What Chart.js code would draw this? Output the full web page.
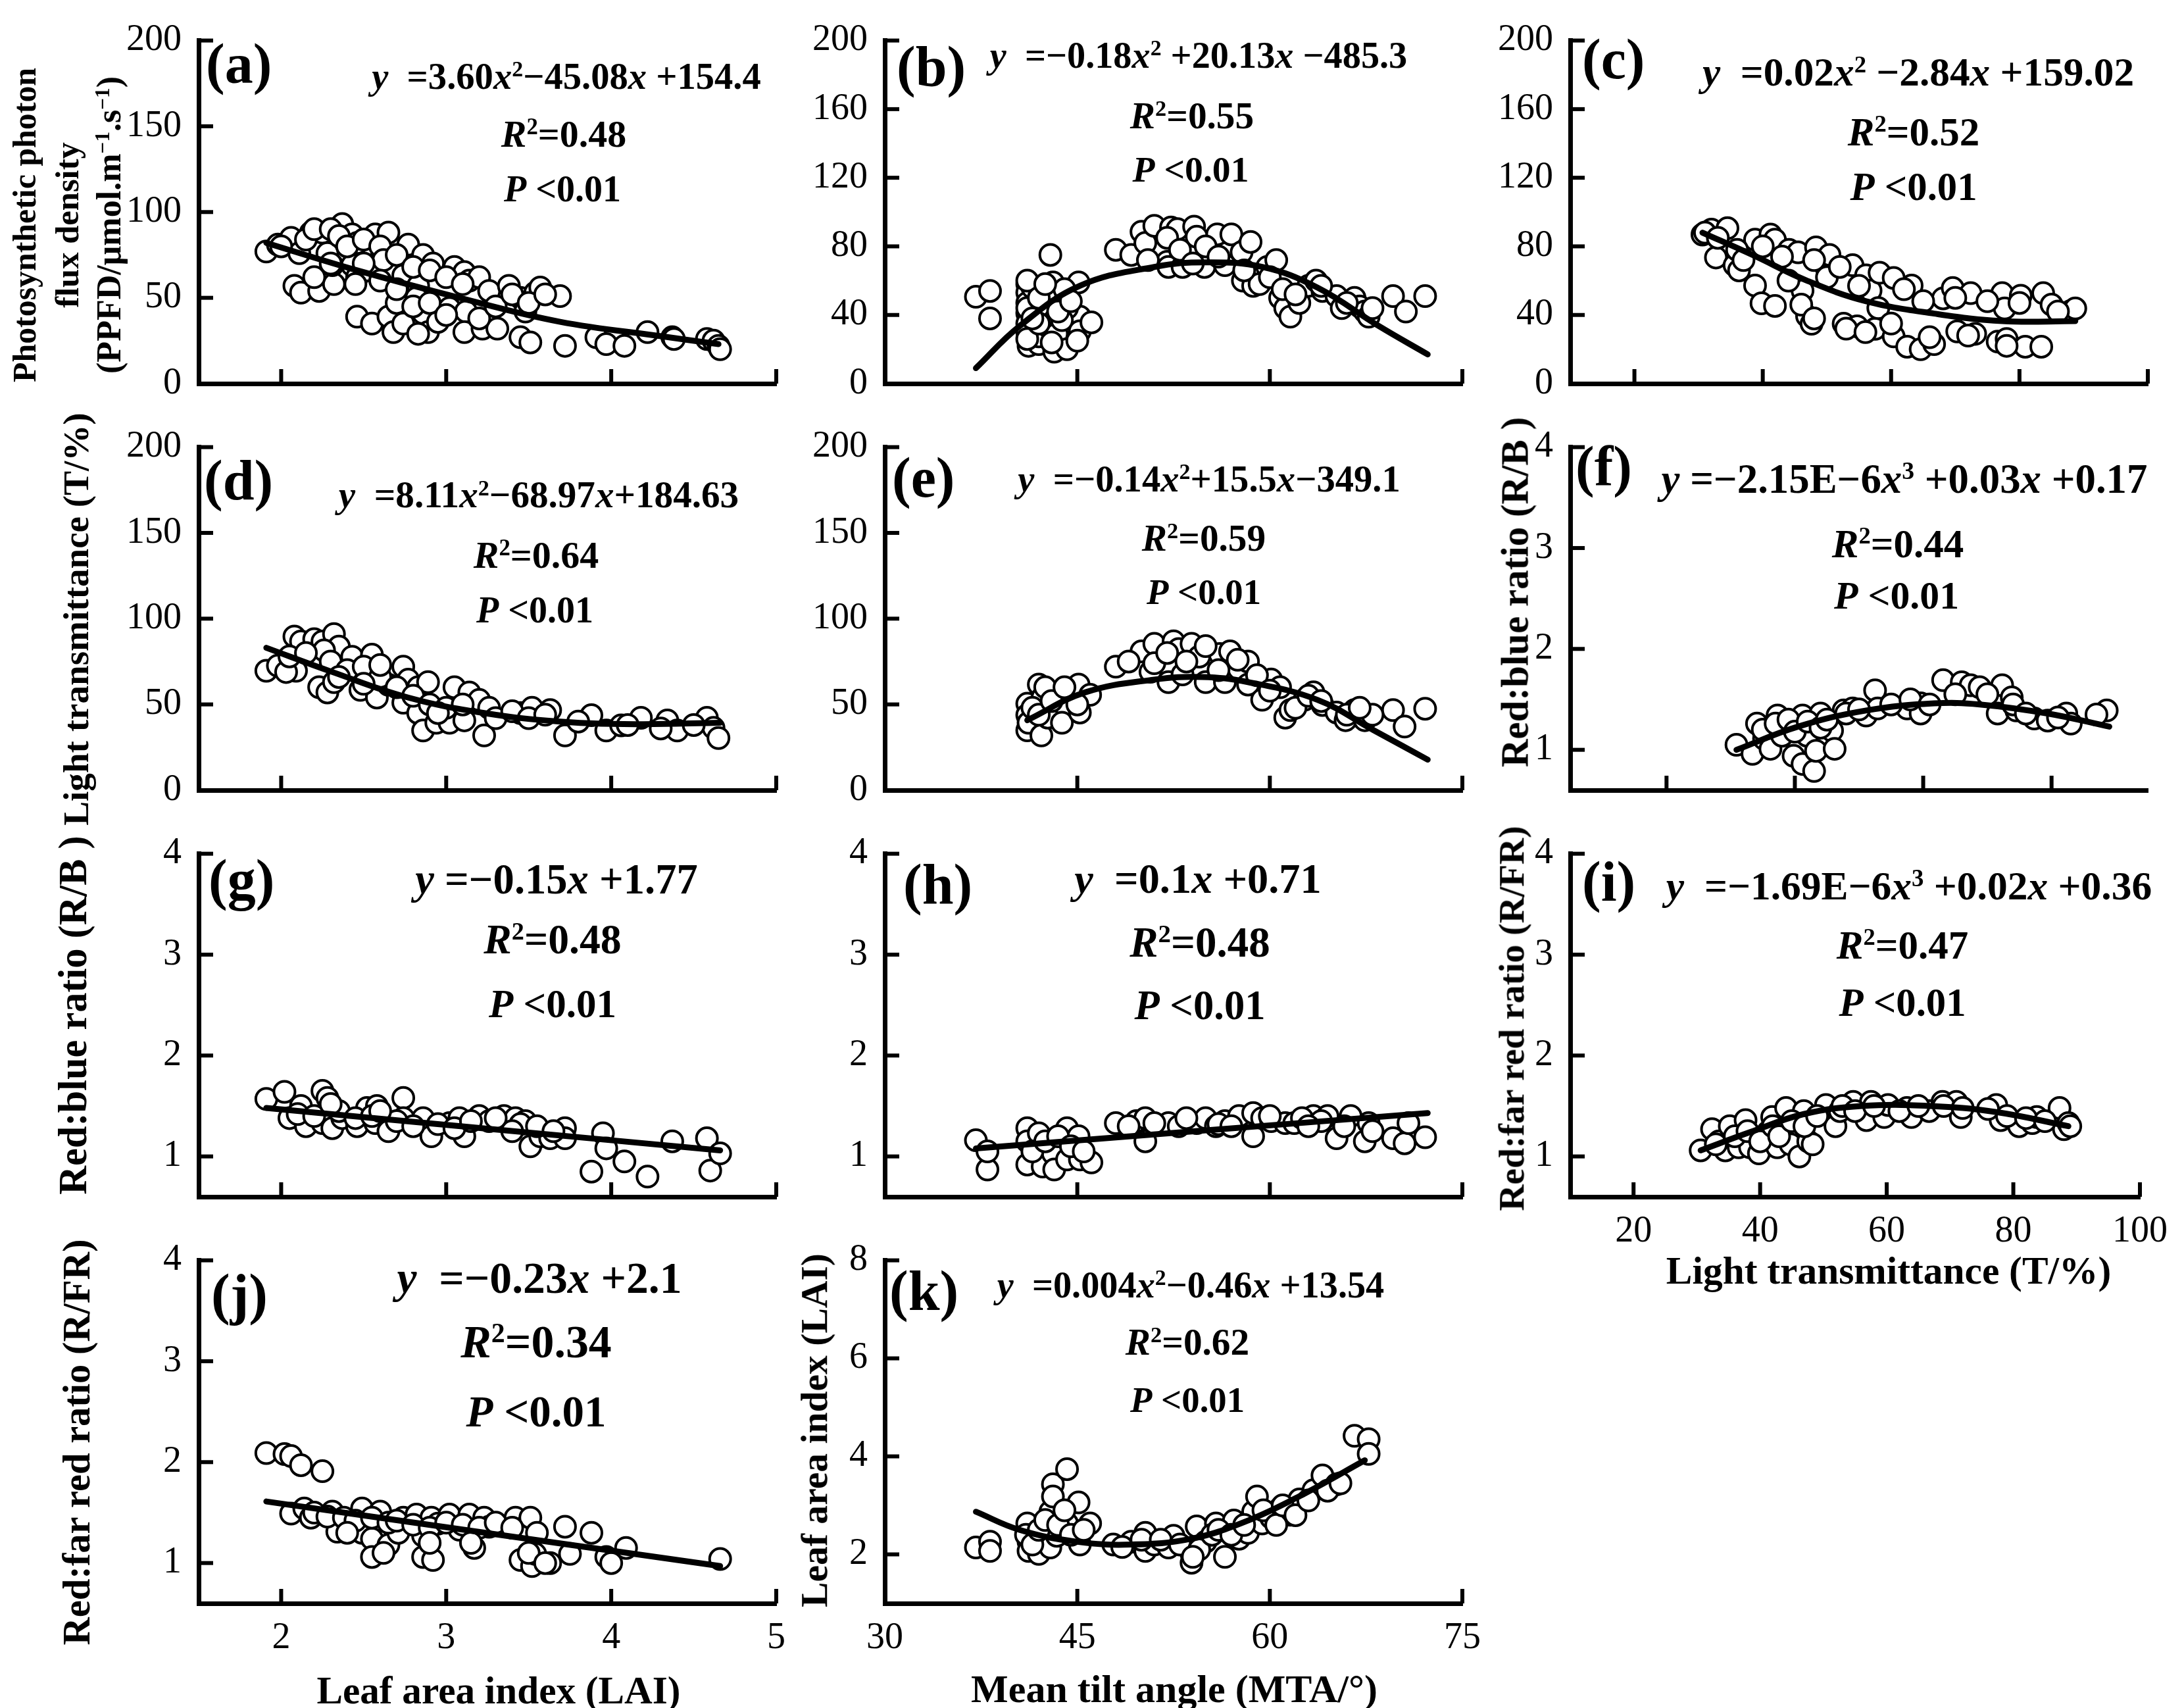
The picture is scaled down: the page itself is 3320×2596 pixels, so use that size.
<!DOCTYPE html>
<html>
<head>
<meta charset="utf-8">
<script src="https://cdn.jsdelivr.net/npm/chart.js@4.4.1/dist/chart.umd.min.js"></script>
<style>
body{margin:0;background:#fff;}
#page{position:relative;width:3320px;height:2596px;background:#fff;overflow:hidden;}
#page canvas{position:absolute;}
.t{position:absolute;white-space:nowrap;line-height:1;color:#000;font-family:'Liberation Serif','Times New Roman',serif;font-weight:bold;}
.t sup{font-size:0.6em;vertical-align:0.55em;line-height:0;}
</style>
</head>
<body>
<div id="page"></div>
<script>

/* Data */

const laiTicks=[2,3,4,5];
const mtaTicks=[30,45,60,75];
const tTicks=[20,40,60,80,100];
const tTicksF=[25,45,65,85];
const ppfdTicks50=[0,50,100,150,200];
const ppfdTicks40=[0,40,80,120,160,200];
const ratioTicks=[1,2,3,4];
const laiYTicks=[2,4,6,8];

// (a) LAI vs PPFD
const aX=[1.91,1.98,2.06,2.11,2.08,2.12,2.18,2.25,2.23,2.32,2.28,2.31,2.37,2.43,2.46,2.43,2.46,2.52,2.57,2.65,2.55,2.46,2.55,2.65,2.68,2.74,2.77,2.74,2.83,2.82,2.86,2.92,2.86,2.89,2.83,2.95,3.02,3.05,3.11,3.14,3.12,3.11,3.2,3.26,3.22,3.31,3.38,3.45,3.45,3.51,3.48,3.54,3.57,3.69,3.72,3.91,3.97,4.08,4.22,4.37,4.38,4.58,4.62,4.65,4.66,
2.0,2.15,2.2,2.3,2.35,2.4,2.5,2.6,2.62,2.7,2.8,2.9,3.0,3.1,2.5,2.6,2.7,2.8,2.9,3.0,3.2,3.3,3.4,3.5,3.6,2.3,2.2,2.45,2.7];
const aY=[77,81,85,76,57,53,88,88,54,58,76,69,93,87,82,69,62,66,87,88,69,39,35,39,30,35,81,63,57,50,75,70,41,30,29,36,44,68,65,60,42,30,62,54,32,32,57,50,27,24,42,53,56,51,22,27,23,22,30,27,26,26,25,22,20,
80,84,90,90,86,80,84,80,72,75,68,66,62,58,70,60,47,45,47,40,38,45,52,47,52,70,62,58,55];
const aFitX=[1.91,2.46,3.08,3.69,4.31,4.65];
const aFitY=[82,66,50,36,27.5,23];

// (b) MTA vs PPFD
const bX=[37.1,38.2,38.2,41.1,41.1,41.1,41.1,41.1,41.2,42,42,42.9,43.1,43.1,42.3,42.7,43.2,43.4,44.2,45.1,45.2,45.2,46.1,44.2,48,49.2,50,50.3,51,52,52.1,52.3,52.8,53.2,54.1,54.3,54.9,55.9,56.5,57,57.8,58.5,57.9,58.7,59.2,59.8,60.5,60.8,61.2,61.6,62.3,63,63.6,64.1,65.2,65.6,66.6,67,67.4,67.7,69.6,70.6,72.1,41.5,42.5,44,43.8,42,
41.1,41.1,41.1,41.1,42,42,42.5,43,43.5,44.5,45,41.5,52,53,55,56,58,60,61,62,64,66,68,50.5,54];
const bY=[50.6,54,38,58,53,47,41,35,22,23,27.5,75,59,48,39,33.5,18.6,29,20,59,39,30.5,35.7,44,78,75,88.5,82,92,71,68,91,90,68,91.5,85.6,68,87,69,87,76.6,82.6,60,57,58,68,72,50,44,39,47,57,60,54,51,44,50,45,42,39,51,42,51,56,52,55,37,45,
60,44,30,26,35,50,58,24,42,48,25,38,85,78,80,74,66,62,55,52,57,47,44,72,70];
const bFitX=[37.1,40.5,45.2,51,55,59.4,63.7,68.5,72.3];
const bFitY=[9,33.5,57,68,70.7,68,56,33.5,17];

// (c) T vs PPFD
const cX=[30.6,32,34.5,32.7,35.6,36.3,38.8,41.2,41.9,38.8,39.8,41.9,44.1,45.5,46.2,46.9,47.6,48.3,49.7,50.4,52.6,54,54.7,56.1,56.8,57.5,58.2,60.4,60.4,62.5,63.2,64.6,66.7,68.1,69.6,70.3,72.4,73.1,76.6,77.3,77.7,78,80.2,80.9,83.4,83.7,88,88.7,
31,33,36,37,40,43,44,46,48,50,52,55,58,60,62,65,66,70,72,75,78,80,85,86,53,56,48];
const cY=[86.9,89.8,90.6,73.5,69,66,83.9,86.9,83.9,57.2,46.8,45.3,78,76.5,54.2,39.3,34.9,79.4,69,75,34.9,69,33.4,63.1,54.2,31.9,64.6,61.6,27.5,21.5,57.2,20,23,49.7,55.7,30.4,52.7,29,24.5,52.7,43.8,26,51.2,21.5,21.5,52.7,42.3,43.8,
88,85,78,72,80,74,60,46,72,62,68,57,44,35,55,48,27,50,28,48,22,47,46,42,32,30,38];
const cFitX=[30.6,38.4,46.9,56.1,66.7,77.3,88.7];
const cFitY=[88,75,60,48,40.8,36.4,36.4];

// (d) LAI vs T
const dX=[1.91,1.98,2.08,2.09,2.03,2.12,2.2,2.25,2.32,2.35,2.26,2.23,2.28,2.32,2.43,2.46,2.48,2.55,2.58,2.65,2.74,2.77,2.74,2.83,2.89,2.83,2.86,2.94,3.02,3.05,3.11,3.14,3.2,3.23,3.26,3.45,3.52,3.63,3.72,3.88,3.97,4.06,4.18,4.34,4.4,4.58,4.62,4.65,
2.05,2.15,2.3,2.4,2.5,2.6,2.7,2.8,2.9,3.0,3.1,3.3,3.4,3.5,3.6,3.8,4.1,4.3,4.5,2.95,2.5,2.6,2.35];
const dY=[69.6,72.6,89.6,69.6,68.9,86.7,88,86.7,91,83.7,81.5,60,57,63,77.8,69,58.5,79,54,61.5,72,64.4,51,60,63,45,34.8,39.3,39.3,60,40.7,57,52.6,31.9,48,45,48,46.7,31.9,43.7,34.8,37.8,42.2,40.7,34.8,42.2,36.3,30.4,
78,80,75,70,72,66,60,55,50,48,50,42,46,42,44,40,38,36,38,45,62,73,66];
const dFitX=[1.91,2.31,2.77,3.23,3.69,4.15,4.66];
const dFitY=[83,68.9,54,45,40,38.5,39.3];

// (e) MTA vs T
const eX=[41.1,41.1,41.1,41.2,42,42.2,42.3,42.7,43.4,43.8,45.1,45.2,46,48,50,51,50.7,52.1,52.5,52.9,53.2,53.9,54.5,55,56.1,56.5,56.9,57.6,58.3,58.3,59.4,60.1,60.8,61.2,61.6,62.7,63.4,64.1,65.2,65.9,66.6,67.4,69.6,70.5,72.1,
41.5,42,42.5,43,44,45,49,51,52,53.5,55,56,57.5,59,60,62,63,64,66,68,67];
const eY=[50.4,43.8,34.9,39.3,61.6,31.9,54.2,42.3,57.1,39.3,61.6,45.3,55.6,72,80.9,85.3,69,63,86.8,82.3,67.5,85.3,77.9,63,79.4,63,80.9,70.5,75,61.6,52.7,64.5,60,42.3,46.7,52.7,57.1,49.7,45.3,40.8,46.7,40.8,46.7,37.1,47.5,
48,44,60,52,60,50,75,74,80,75,84,70,76,67,58,48,55,52,44,44,48];
const eFitX=[41.1,45.6,51,54.7,58.3,63.7,68.1,72.3];
const eFitY=[40.8,57,64.5,66,63,52.7,34.9,17.8];

// (f) T vs R/B
const fX=[35.9,38.4,39.1,40.2,41.2,42.3,43,44.8,45.5,46.2,46.2,46.9,48,48.3,49,50.8,51.2,52.6,54,56.1,57.5,57.9,62.5,64.6,64.6,68.1,71,72.4,73.8,77.3,76.6,78.8,79.5,82.3,84.4,87.3,88,93.6,
40,42,44,45,47,49,50,53,55,60,63,66,70,75,79,81,86,92];
const fY=[1.05,0.96,1.26,1.11,1.01,1.34,1.14,0.94,1.26,1.34,0.86,1.14,0.79,0.99,1.36,1.19,1.01,1.39,1.41,1.34,1.59,1.41,1.41,1.46,1.36,1.69,1.67,1.64,1.62,1.64,1.36,1.52,1.39,1.31,1.29,1.36,1.26,1.39,
1.2,1.26,1.3,1.18,1.28,1.22,1.3,1.36,1.4,1.45,1.5,1.45,1.55,1.55,1.45,1.36,1.32,1.35];
const fFitX=[35.9,45.5,56.1,66.7,73.8,84.4,94];
const fFitY=[1.0,1.23,1.39,1.46,1.45,1.36,1.23];

// (g) LAI vs R/B
const gX=[1.91,2.02,2.05,2.12,2.15,2.25,2.28,2.25,2.31,2.37,2.46,2.52,2.58,2.57,2.65,2.74,2.74,2.86,2.91,3.02,3.08,3.11,3.2,3.26,3.35,3.42,3.48,3.51,3.57,3.63,3.72,3.72,3.88,3.95,3.97,4.08,4.22,4.37,4.58,4.6,4.66,
2.1,2.2,2.35,2.45,2.55,2.7,2.8,2.95,3.05,3.15,3.3,3.45,3.55,3.65,2.6,2.3,3.4];
const gY=[1.57,1.64,1.38,1.5,1.3,1.65,1.58,1.33,1.28,1.38,1.3,1.48,1.5,1.33,1.25,1.58,1.38,1.38,1.2,1.33,1.38,1.2,1.4,1.35,1.4,1.38,1.35,1.1,1.2,1.18,1.28,1.18,0.85,1.23,1.08,0.95,0.8,1.15,1.18,0.86,1.03,
1.42,1.4,1.45,1.38,1.4,1.35,1.3,1.32,1.28,1.35,1.38,1.32,1.3,1.25,1.45,1.52,1.25];
const gFitX=[1.91,3.28,4.66];
const gFitY=[1.48,1.27,1.06];

// (h) MTA vs R/B
const hX=[37.1,38,38,41.1,41.1,41.1,42,42.2,42.3,43.1,43.2,44.2,44.2,45.1,45.2,46.1,48,49.6,50.3,50.3,52.1,52.9,54.3,55,55.8,56.5,57.6,58.7,58.7,59.4,60.1,61.2,61.9,63.4,64.5,65.2,66.3,67.4,67.7,69.6,70.5,70.8,72.1,
41.5,42.5,43.5,44.5,45.5,49,51,53.5,56,57,60,62.5,64,65.8,68,63];
const hY=[1.16,0.87,1.05,1.28,1.15,0.92,1.23,1.03,0.9,1.03,0.87,1.28,0.97,1.2,0.97,0.94,1.33,1.35,1.38,1.15,1.33,1.3,1.33,1.38,1.3,1.35,1.4,1.43,1.2,1.38,1.35,1.33,1.33,1.4,1.4,1.18,1.4,1.15,1.33,1.18,1.13,1.33,1.19,
1.05,1.15,1.2,1.1,1.05,1.3,1.33,1.38,1.32,1.3,1.4,1.38,1.35,1.3,1.25,1.3];
const hFitX=[37.1,54.7,72.3];
const hFitY=[1.08,1.255,1.43];

// (i) T vs R/FR
const iX=[30.6,32.4,33.5,34.5,35.2,36.6,37.7,38.4,39.8,41.2,41.9,42.7,44.1,44.8,46.2,46.9,47.6,48.3,50.4,51.9,52.6,54.7,56.8,57.5,59.6,60.2,63.2,63.9,66.7,68.8,71,71.7,77.3,78,80.9,83,83.7,87.3,88,88.7,
33,36,38,40,42,43,45,47,49,53,55,58,62,65,69,72,76,79,82,85,89];
const iY=[1.06,1.27,1.15,1.06,1.3,1.09,1.36,1.09,1.03,1.24,1.39,1.09,1.48,1.12,1.0,1.45,1.15,1.12,1.51,1.3,1.45,1.54,1.36,1.54,1.39,1.51,1.48,1.39,1.45,1.54,1.54,1.39,1.51,1.36,1.3,1.33,1.39,1.48,1.27,1.33,
1.12,1.2,1.25,1.15,1.3,1.2,1.35,1.3,1.4,1.5,1.45,1.5,1.45,1.5,1.5,1.48,1.47,1.4,1.38,1.35,1.3];
const iFitX=[30.6,38.4,46.9,56.1,66.7,77.3,88.7];
const iFitY=[1.06,1.24,1.42,1.5,1.5,1.44,1.3];

// (j) LAI vs R/FR
const jX=[1.91,2.02,2.06,2.12,2.25,2.06,2.14,2.18,2.31,2.34,2.43,2.49,2.49,2.55,2.55,2.6,2.65,2.71,2.74,2.82,2.86,2.86,2.92,2.91,2.95,3.02,3.08,3.14,3.17,3.23,3.26,3.42,3.45,3.48,3.51,3.52,3.54,3.63,3.72,3.75,3.88,3.97,4,4.09,4.66,
2.2,2.28,2.38,2.45,2.55,2.65,2.7,2.8,2.9,3.0,3.1,3.2,3.3,3.4,3.55,2.4,2.62,2.9,3.15,3.5,3.6];
const jY=[2.09,2.08,2.06,1.97,1.91,1.49,1.54,1.45,1.51,1.31,1.36,1.54,1.3,1.24,1.06,1.51,1.18,1.3,1.45,1.48,1.27,1.06,1.03,1.45,1.39,1.48,1.33,1.48,1.15,1.45,1.36,1.45,1.03,1.36,1.45,0.97,1.09,1.0,1.36,1.09,1.3,1.06,1.0,1.15,1.04,
1.5,1.46,1.45,1.42,1.45,1.4,1.42,1.38,1.35,1.4,1.38,1.35,1.4,1.35,1.3,1.3,1.1,1.2,1.2,1.1,1.0];
const jFitX=[1.91,3.28,4.66];
const jFitY=[1.61,1.29,0.97];

// (k) MTA vs LAI
const kX=[37.1,38.2,38.2,41.1,41.2,41.2,42,42.2,42.9,42.9,43.1,43.1,43.4,44.2,44.2,45.1,45.2,46,47.8,49.2,50.3,50.3,51,52.1,52.5,53.9,53.9,54.3,55,55.8,56.5,57.2,57.6,58.3,58.7,59,59.4,60.1,60.8,61.6,62.3,63.4,64.1,65.2,66.6,67.7,67.7,
41,41.5,42,42.5,43.5,44,44.5,45.5,48.5,50,51.5,53,54.5,55.5,56,57,58,59.5,60.5,61,62,63,64.5,65.5,54];
const kY=[2.14,2.26,2.07,2.63,2.26,2.07,2.01,2.38,2.14,2.87,3.43,3.18,2.38,3.74,2.63,3.06,2.2,2.63,2.2,2.26,2.44,2.07,2.2,2.14,2.38,2.01,1.83,2.57,2.26,2.63,1.95,2.69,2.32,2.44,2.87,3.18,2.63,2.75,2.94,2.81,3.12,3.31,3.61,3.43,4.42,4.35,4.05,
2.4,2.2,2.5,2.7,2.6,2.9,2.4,2.5,2.15,2.3,2.3,2.2,2.1,2.4,2.5,2.4,2.6,2.9,2.6,3.0,2.8,3.1,3.3,3.45,1.95];
const kFitX=[37.1,40.5,44.9,49.2,53.9,58.3,62.7,67.4];
const kFitY=[2.87,2.5,2.26,2.2,2.32,2.69,3.24,3.92];

// fitted equations and R2 printed in each panel
const eqText=[
"<i>y</i>&nbsp; =3.60<i>x</i><sup>2</sup>−45.08<i>x</i> +154.4",
"<i>y</i>&nbsp; =−0.18<i>x</i><sup>2</sup> +20.13<i>x</i> −485.3",
"<i>y</i>&nbsp; =0.02<i>x</i><sup>2</sup> −2.84<i>x</i> +159.02",
"<i>y</i>&nbsp; =8.11<i>x</i><sup>2</sup>−68.97<i>x</i>+184.63",
"<i>y</i>&nbsp; =−0.14<i>x</i><sup>2</sup>+15.5<i>x</i>−349.1",
"<i>y</i> =−2.15E−6<i>x</i><sup>3</sup> +0.03<i>x</i> +0.17",
"<i>y</i> =−0.15<i>x</i> +1.77",
"<i>y</i>&nbsp; =0.1<i>x</i> +0.71",
"<i>y</i>&nbsp; =−1.69E−6<i>x</i><sup>3</sup> +0.02<i>x</i> +0.36",
"<i>y</i>&nbsp; =−0.23<i>x</i> +2.1",
"<i>y</i>&nbsp; =0.004<i>x</i><sup>2</sup>−0.46<i>x</i> +13.54"
];
const r2Text=["0.48","0.55","0.52","0.64","0.59","0.44","0.48","0.48","0.47","0.34","0.62"];
const panelIds=["a","b","c","d","e","f","g","h","i","j","k"];

/* Layout */

const SERIF="'Liberation Serif','Times New Roman',serif";
const colLeft=[302,1345,2387];
const rowTop=[47,665,1283,1901];
const PW=878,PH=536,YW=120,PADT=45,PADR=50,XH=90;

const page=document.getElementById("page");

const pts=(xs,ys)=>xs.map((v,i)=>({x:v,y:ys[i]}));

const panels=[
{row:0,col:0,x:aX,y:aY,fx:aFitX,fy:aFitY,xr:[1.5,5],xt:laiTicks,yr:[0,200],yt:ppfdTicks50},
{row:0,col:1,x:bX,y:bY,fx:bFitX,fy:bFitY,xr:[30,75],xt:mtaTicks,yr:[0,200],yt:ppfdTicks40},
{row:0,col:2,x:cX,y:cY,fx:cFitX,fy:cFitY,xr:[10,100],xt:tTicks,yr:[0,200],yt:ppfdTicks40},
{row:1,col:0,x:dX,y:dY,fx:dFitX,fy:dFitY,xr:[1.5,5],xt:laiTicks,yr:[0,200],yt:ppfdTicks50},
{row:1,col:1,x:eX,y:eY,fx:eFitX,fy:eFitY,xr:[30,75],xt:mtaTicks,yr:[0,200],yt:ppfdTicks50},
{row:1,col:2,x:fX,y:fY,fx:fFitX,fy:fFitY,xr:[10,100],xt:tTicksF,yr:[0.6,4],yt:ratioTicks},
{row:2,col:0,x:gX,y:gY,fx:gFitX,fy:gFitY,xr:[1.5,5],xt:laiTicks,yr:[0.6,4],yt:ratioTicks},
{row:2,col:1,x:hX,y:hY,fx:hFitX,fy:hFitY,xr:[30,75],xt:mtaTicks,yr:[0.6,4],yt:ratioTicks},
{row:2,col:2,x:iX,y:iY,fx:iFitX,fy:iFitY,xr:[10,100],xt:tTicks,yr:[0.6,4],yt:ratioTicks,showX:true},
{row:3,col:0,x:jX,y:jY,fx:jFitX,fy:jFitY,xr:[1.5,5],xt:laiTicks,yr:[0.6,4],yt:ratioTicks,showX:true},
{row:3,col:1,x:kX,y:kY,fx:kFitX,fy:kFitY,xr:[30,75],xt:mtaTicks,yr:[1,8],yt:laiYTicks,showX:true}
];

/* Inward tick marks */

const inTicks={
id:"inTicks",
beforeDatasetsDraw(chart){
const ctx=chart.ctx,a=chart.chartArea;
const xs=chart.scales.x,ys=chart.scales.y;
ctx.save();
ctx.strokeStyle="#000";
ctx.lineWidth=6;
xs.ticks.forEach(t=>{
const p=xs.getPixelForValue(t.value);
if(Math.abs(p-a.left)<3)return;
ctx.beginPath();ctx.moveTo(p,a.bottom);ctx.lineTo(p,a.bottom-22);ctx.stroke();
});
ys.ticks.forEach(t=>{
const p=ys.getPixelForValue(t.value);
if(Math.abs(p-a.bottom)<3)return;
ctx.beginPath();ctx.moveTo(a.left,p);ctx.lineTo(a.left+22,p);ctx.stroke();
});
ctx.restore();
}
};

/* Charts */

panels.forEach(p=>{

const cv=document.createElement("canvas");
const w=YW+PW+PADR,h=PADT+PH+XH;
cv.width=w;cv.height=h;
cv.style.width=w+"px";cv.style.height=h+"px";
cv.style.left=(colLeft[p.col]-YW)+"px";
cv.style.top=(rowTop[p.row]-PADT)+"px";
page.appendChild(cv);

const axisBase={
type:"linear",
grid:{display:true,drawOnChartArea:false,drawTicks:false,color:"rgba(0,0,0,0)"},
border:{display:true,color:"#000",width:7}
};

new Chart(cv,{
type:"scatter",
data:{datasets:[
{data:pts(p.x,p.y),pointRadius:16,pointHoverRadius:16,borderWidth:4,
borderColor:"#000",backgroundColor:"#fff",order:2},
{type:"line",data:pts(p.fx,p.fy),borderColor:"#000",borderWidth:9,
pointRadius:0,tension:0.4,fill:false,borderCapStyle:"round",order:1}
]},
options:{
responsive:false,
devicePixelRatio:1,
animation:false,
layout:{padding:{top:PADT,right:PADR,left:0,bottom:0}},
plugins:{legend:{display:false},tooltip:{enabled:false}},
scales:{
x:{...axisBase,min:p.xr[0],max:p.xr[1],
afterBuildTicks:s=>{s.ticks=p.xt.map(v=>({value:v}));},
afterFit:s=>{s.height=XH;},
ticks:{display:!!p.showX,font:{family:SERIF,size:56},color:"#000",
padding:20,maxRotation:0,autoSkip:false}},
y:{...axisBase,min:p.yr[0],max:p.yr[1],
afterBuildTicks:s=>{s.ticks=p.yt.map(v=>({value:v}));},
afterFit:s=>{s.width=YW;},
ticks:{font:{family:SERIF,size:56},color:"#000",padding:26,autoSkip:false}}
}
},
plugins:[inTicks]
});

});

/* Text */

const fits=[];

function txt(html,x,y,target,opt){
opt=opt||{};
const el=document.createElement("div");
el.className="t";
el.innerHTML=html;
el.style.left=x+"px";
el.style.top=y+"px";
el.style.fontSize=(opt.size||50)+"px";
el.style.transform=opt.left?"translateY(-50%)":
"translate(-50%,-50%)"+(opt.rot?" rotate(-90deg)":"");
page.appendChild(el);
if(target)fits.push([el,target,opt.size||50]);
return el;
}

// panel letters
const labPos=[[313,97],[1363,101],[2405,90],[310,730],[1356,726],[2395,709],[317,1337],[1373,1344],[2405,1340],[321,1967],[1352,1962]];
panelIds.forEach((id,i)=>txt("("+id+")",labPos[i][0],labPos[i][1],0,{left:true,size:86}));

// equation, R2, P lines: centre x, centre y, width
const eqPos=[[861,116,592],[1822,84,635],[2916,110,656],[819,752,608],[1838,728,582],[2895,728,739],[846,1336,430],[1821,1336,376],[2902,1347,739],[820,1943,433],[1810,1953,589]];
const r2Pos=[[857,204,190],[1812,176,188],[2909,200,200],[815,844,190],[1830,818,188],[2885,826,200],[840,1428,209],[1824,1432,213],[2892,1436,200],[815,2040,229],[1805,2040,188]];
const pPos=[[855,288,178],[1810,258,177],[2909,284,193],[813,928,178],[1830,900,174],[2883,906,190],[840,1526,194],[1824,1528,199],[2892,1524,193],[815,2145,213],[1805,2128,174]];

eqText.forEach((s,i)=>{
txt(s,eqPos[i][0],eqPos[i][1],eqPos[i][2]);
txt("<i>R</i><sup>2</sup>="+r2Text[i],r2Pos[i][0],r2Pos[i][1],r2Pos[i][2]);
txt("<i>P</i> &lt;0.01",pPos[i][0],pPos[i][1],pPos[i][2]);
});

// y axis titles
txt("Photosynthetic photon",38,342,478,{rot:true});
txt("flux density",102,342,252,{rot:true});
txt("(PPFD/μmol.m<sup>−1</sup>.s<sup>−1</sup>)",166,342,452,{rot:true});
txt("Light transmittance (T/%)",116,941,627,{rot:true});
txt("Red:blue ratio (R/B )",2303,900,532,{rot:true});
txt("Red:blue ratio (R/B )",111,1543,545,{rot:true});
txt("Red:far red ratio (R/FR)",2298,1548,585,{rot:true});
txt("Red:far red ratio (R/FR)",117,2192,617,{rot:true});
txt("Leaf area index (LAI)",1238,2174,538,{rot:true});

// x axis titles
txt("Light transmittance (T/%)",2871,1932,676);
txt("Leaf area index (LAI)",758,2570,553);
txt("Mean tilt angle (MTA/°)",1785,2567,618);

function fitAll(){
fits.forEach(([el,target,size])=>{
el.style.fontSize=size+"px";
const w=el.offsetWidth;
if(w>0)el.style.fontSize=(size*target/w).toFixed(2)+"px";
});
}

fitAll();
if(document.fonts&&document.fonts.ready)document.fonts.ready.then(fitAll);

</script>
</body>
</html>
